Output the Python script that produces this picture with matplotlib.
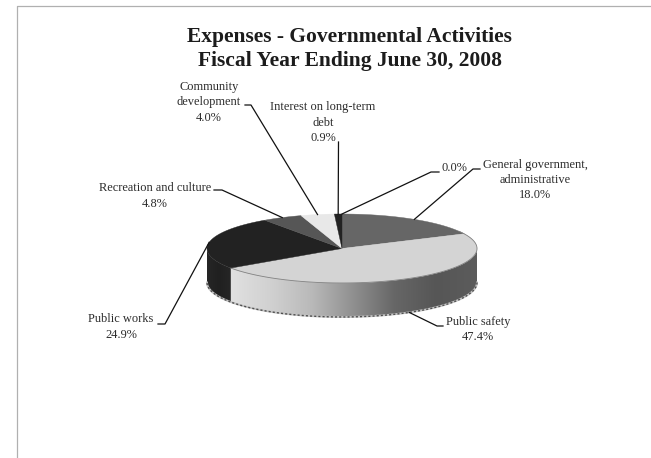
import numpy as np
import matplotlib
matplotlib.use("Agg")
import matplotlib.pyplot as plt
from matplotlib.colors import LinearSegmentedColormap
from matplotlib.patches import Polygon

matplotlib.rcParams["font.family"] = "Liberation Serif"

title = "Expenses - Governmental Activities\nFiscal Year Ending June 30, 2008"

categories = [
    "General government,\nadministrative",
    "Public safety",
    "Public works",
    "Recreation and culture",
    "Community\ndevelopment",
    "Interest on long-term\ndebt",
    "",
]
shares = [18.0, 47.4, 24.9, 4.8, 4.0, 0.9, 0.0]

slice_colors = ["#666666", "#d4d4d4", "#222222", "#565656", "#e8e8e8", "#222222", "#222222"]

# label centre and elbow of the leader line, in pixels
label_pos = [(535, 180), (478, 329.5), (121, 327), (155, 196), (209, 102.5), (323, 122.5), (454, 168)]
elbows = [
    [(480, 169), (473, 169)],
    [(443, 326), (437, 326)],
    [(158, 324), (165, 324)],
    [(214, 190), (222, 190)],
    [(245, 105), (251, 105)],
    [(338.5, 142)],
    [(439, 172), (431, 172)],
]

cx, cy = 342, 248.5
rx, ry = 135, 34.5
depth = 34


def rim(theta):
    # theta runs clockwise from twelve o'clock, in radians
    return cx + rx * np.sin(theta), cy - ry * np.cos(theta)


fig = plt.figure(figsize=(6.51, 4.58), dpi=100)
ax = fig.add_axes([0, 0, 1, 1])

# page frame
ax.plot([16.5, 16.5, 651], [458, 5.5, 5.5], color="#b0b0b0", lw=0.9)

edges = np.cumsum([0] + shares) / sum(shares) * 2 * np.pi
mids = (edges[:-1] + edges[1:]) / 2

# side wall, only the part facing the viewer is visible
wall_colors = {
    1: ["#e0e0e0", "#d0d0d0", "#b8b8b8", "#8e8e8e", "#666666", "#565656", "#5c5c5c"],
    2: ["#262626", "#202020", "#262626"],
}
for i in wall_colors:
    start = max(edges[i], np.pi / 2)
    stop = min(edges[i + 1], 3 * np.pi / 2)
    t = np.linspace(start, stop, 80)
    x, y = rim(t)
    verts = np.column_stack([np.r_[x, x[::-1]], np.r_[y, y[::-1] + depth]])
    left, right = x.min(), x.max()
    cmap = LinearSegmentedColormap.from_list("wall", wall_colors[i])
    im = ax.imshow(
        np.linspace(0, 1, 256).reshape(1, -1),
        cmap=cmap,
        extent=[left, right, cy + ry + depth + 2, cy - 5],
        aspect="auto",
        zorder=2,
    )
    im.set_clip_path(Polygon(verts, transform=ax.transData))

# speckled lower edge of the wall
t = np.linspace(np.pi / 2, 3 * np.pi / 2, 300)
x, y = rim(t)
ax.plot(x, y + depth, color="#c4c4c4", lw=1.4, zorder=3)
ax.plot(x, y + depth, color="#505050", lw=1.0, ls=(0, (1.5, 1.5)), zorder=3)

# top face
for i, color in enumerate(slice_colors):
    if shares[i] == 0:
        continue
    t = np.linspace(edges[i], edges[i + 1], 120)
    x, y = rim(t)
    ax.fill(np.r_[cx, x], np.r_[cy, y], color=color, lw=0.3, zorder=4)

t = np.linspace(np.pi / 3, edges[2], 120)
x, y = rim(t)
ax.plot(x, y, color="#808080", lw=0.6, zorder=5)

# leader lines and labels
for i, (name, share) in enumerate(zip(categories, shares)):
    px, py = rim(mids[i])
    if np.pi / 2 < mids[i] < 3 * np.pi / 2:
        py += depth
    pts = elbows[i] + [(px, py)]
    ax.plot([p[0] for p in pts], [p[1] for p in pts], color="#111111", lw=0.9, zorder=6)
    text = f"{name}\n{share:.1f}%" if name else f"{share:.1f}%"
    ax.text(label_pos[i][0], label_pos[i][1], text, ha="center", va="center",
            fontsize=8.9, color="#2c2c2c", linespacing=1.34, zorder=7)

ax.text(349.5, 49, title, ha="center", va="center", fontsize=15.5, fontweight="bold",
        color="#1c1c1c", linespacing=1.27)

ax.set_xlim(0, 651)
ax.set_ylim(458, 0)
ax.axis("off")

fig.savefig("out.png", dpi=100, facecolor="white")
